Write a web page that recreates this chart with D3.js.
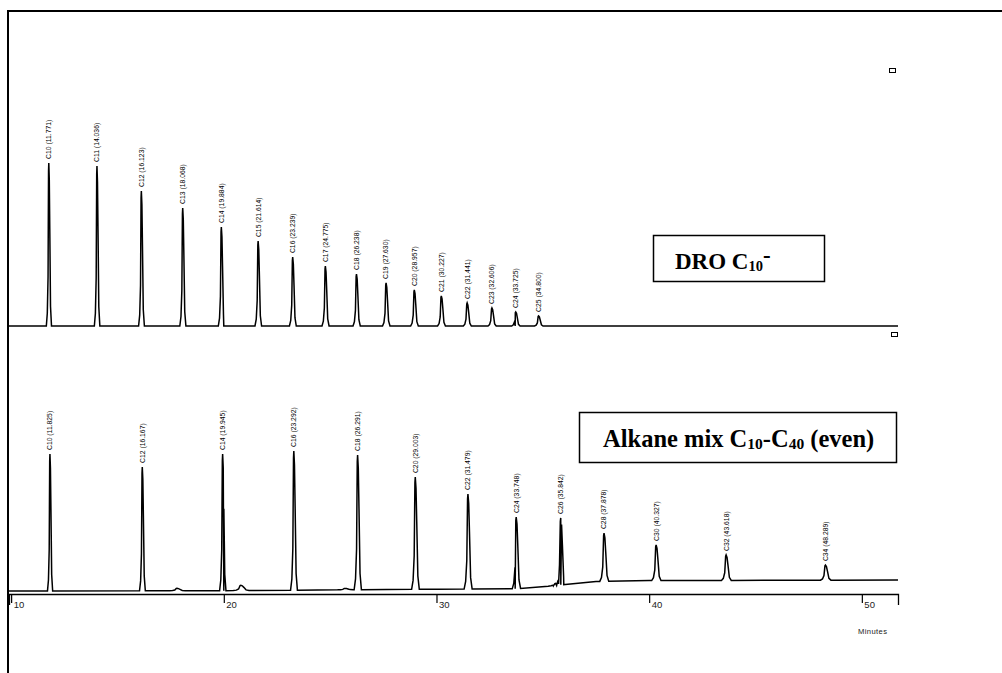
<!DOCTYPE html>
<html>
<head>
<meta charset="utf-8">
<script src="https://cdn.jsdelivr.net/npm/d3@7"></script>
<style>
  html, body { margin: 0; padding: 0; background: #fff; }
  svg { display: block; }
</style>
</head>
<body>
<svg id="chart" width="1002" height="673"></svg>
<script>
// DRO C10- standard (upper trace)
const topNames = ["C10 (11.771)", "C11 (14.036)", "C12 (16.123)", "C13 (18.068)", "C14 (19.884)",
  "C15 (21.614)", "C16 (23.239)", "C17 (24.775)", "C18 (26.238)", "C19 (27.630)", "C20 (28.957)",
  "C21 (30.227)", "C22 (31.441)", "C23 (32.606)", "C24 (33.725)", "C25 (34.800)"];
const topTimes = [11.771, 14.036, 16.123, 18.068, 19.884, 21.614, 23.239, 24.775, 26.238,
  27.630, 28.957, 30.227, 31.441, 32.606, 33.725, 34.800];
const topHeights = [90.6, 88.9, 75.0, 65.6, 55.0, 47.2, 38.3, 33.3, 28.9, 23.9, 20.0, 16.7,
  12.8, 10.0, 7.8, 5.6];

// Alkane mix C10-C40 (even) (lower trace)
const bottomNames = ["C10 (11.825)", "C12 (16.167)", "C14 (19.945)", "C16 (23.292)", "C18 (26.291)",
  "C20 (29.003)", "C22 (31.479)", "C24 (33.748)", "C26 (35.842)", "C28 (37.878)", "C30 (40.327)",
  "C32 (43.618)", "C34 (48.289)"];
const bottomTimes = [11.825, 16.167, 19.945, 23.292, 26.291, 29.003, 31.479, 33.748, 35.842,
  37.878, 40.327, 43.618, 48.289];
const bottomHeights = [76.1, 68.9, 76.1, 77.8, 75.6, 63.3, 53.9, 41.1, 40.6, 32.2, 25.6, 20.0, 14.4];

// unlabelled small bumps and baseline drift of the lower trace
const minorTimes = [17.8, 20.8, 25.7, 35.6];
const minorHeights = [1.3, 2.9, 0.8, 1.2];
const driftTimes = [9.9, 20, 30, 33.7, 35.5, 37.5, 40, 51.7];
const driftValues = [0, 0.2, 1.0, 1.2, 2.9, 5.3, 5.8, 6.1];

const axisTicks = [10, 20, 30, 40, 50];

const svg = d3.select("#chart");
const x = d3.scaleLinear().domain([9.9, 51.7]).range([9, 898]);
const yTop = d3.scaleLinear().domain([0, 100]).range([326, 146]);
const yBottom = d3.scaleLinear().domain([0, 100]).range([591, 411]);
const widthScale = d3.scaleLinear().domain([10, 50]).range([1.1, 2.4]);

// peak profile: [time offset (min), fraction of apex]
const profile = [[-0.1, 0], [-0.06, 0.08], [-0.03, 0.3], [-0.01, 0.95], [0, 1], [0.02, 0.9],
  [0.04, 0.6], [0.07, 0.12], [0.11, 0]];

function trace(times, heights, base, extraTimes, extraHeights) {
  const points = driftTimes.map((t) => ({ t, v: base(t) }));
  const addPeak = (rt, apex, spread) => {
    const b = base(rt);
    for (const [dt, f] of profile) {
      const t = rt + dt * spread;
      points.push({ t, v: base(t) + f * (apex - b) });
    }
  };
  times.forEach((rt, i) => addPeak(rt, heights[i], widthScale(rt)));
  (extraTimes || []).forEach((rt, i) => addPeak(rt, base(rt) + extraHeights[i], 3.5));
  return points.sort((a, b) => a.t - b.t);
}

const flat = () => 0;
const drift = d3.scaleLinear().domain(driftTimes).range(driftValues);

// frame
svg.append("path")
  .attr("d", `M8,673V11H1002`)
  .attr("fill", "none")
  .attr("stroke", "#000")
  .attr("stroke-width", 2);

const lineTop = d3.line().x((d) => x(d.t)).y((d) => yTop(d.v));
const lineBottom = d3.line().x((d) => x(d.t)).y((d) => yBottom(d.v));

svg.append("path")
  .attr("d", lineTop(trace(topTimes, topHeights, flat)))
  .attr("fill", "none")
  .attr("stroke", "#000")
  .attr("stroke-width", 1.5);

svg.append("path")
  .attr("d", lineBottom(trace(bottomTimes, bottomHeights, drift, minorTimes, minorHeights)))
  .attr("fill", "none")
  .attr("stroke", "#000")
  .attr("stroke-width", 1.5);

function labels(names, times, heights, y) {
  svg.append("g")
    .selectAll("text")
    .data(names)
    .join("text")
    .attr("transform", (d, i) => `translate(${x(times[i])},${y(heights[i]) - 4}) rotate(-90)`)
    .attr("dy", "0.35em")
    .attr("font-family", "Liberation Sans, Arial, sans-serif")
    .attr("font-size", 6.8)
    .attr("fill", "#000")
    .text((d) => d);
}

labels(topNames, topTimes, topHeights, yTop);
labels(bottomNames, bottomTimes, bottomHeights, yBottom);

// time axis
const axis = svg.append("g")
  .attr("transform", "translate(0,594)")
  .call(d3.axisBottom(x).tickValues(axisTicks).tickSize(9).tickSizeOuter(11).tickFormat(d3.format("d")));
axis.select(".domain").attr("stroke-width", 1.3);
axis.selectAll(".tick line").attr("stroke-width", 1.2);
axis.selectAll(".tick text")
  .attr("text-anchor", "start")
  .attr("x", 2)
  .attr("y", 14)
  .attr("dy", 0)
  .attr("font-family", "Liberation Sans, Arial, sans-serif")
  .attr("font-size", 9.5)
  .attr("fill", "#222");

svg.append("text")
  .attr("x", 858)
  .attr("y", 634)
  .attr("font-family", "Liberation Sans, Arial, sans-serif")
  .attr("font-size", 7.6)
  .attr("letter-spacing", 0.4)
  .attr("fill", "#222")
  .text("Minutes");

// small markers at the right of each trace
svg.append("g")
  .selectAll("rect")
  .data([[889.5, 68.5], [891.5, 332.5]])
  .join("rect")
  .attr("x", (d) => d[0])
  .attr("y", (d) => d[1])
  .attr("width", 6)
  .attr("height", 4)
  .attr("fill", "#fff")
  .attr("stroke", "#000")
  .attr("stroke-width", 1);

// legend boxes
const serif = "Liberation Serif, Times New Roman, serif";

svg.append("rect")
  .attr("x", 653.5).attr("y", 235.5).attr("width", 171).attr("height", 46)
  .attr("fill", "#fff").attr("stroke", "#000").attr("stroke-width", 1.5);
const dro = svg.append("text")
  .attr("x", 675).attr("y", 269)
  .attr("font-family", serif).attr("font-weight", "bold").attr("font-size", 23);
dro.append("tspan").text("DRO C");
dro.append("tspan").attr("font-size", 14.5).attr("dy", 1.5).text("10");
dro.append("tspan").attr("dy", -8).text("-");

svg.append("rect")
  .attr("x", 579.5).attr("y", 412.5).attr("width", 317).attr("height", 50)
  .attr("fill", "#fff").attr("stroke", "#000").attr("stroke-width", 1.5);
const alk = svg.append("text")
  .attr("x", 603).attr("y", 447)
  .attr("font-family", serif).attr("font-weight", "bold").attr("font-size", 24.5);
alk.append("tspan").text("Alkane mix C");
alk.append("tspan").attr("font-size", 15.5).attr("dy", 2).text("10");
alk.append("tspan").attr("dy", -2).text("-C");
alk.append("tspan").attr("font-size", 15.5).attr("dy", 2).text("40");
alk.append("tspan").attr("dy", -2).text(" (even)");
</script>
</body>
</html>
